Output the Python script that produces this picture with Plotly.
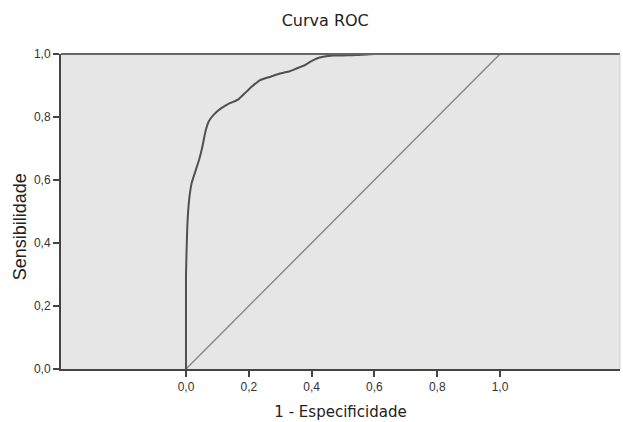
import plotly.graph_objects as go

# ROC curve
fpr = [0.0, 0.0, 0.004, 0.01, 0.018, 0.03, 0.042, 0.052, 0.058, 0.064, 0.072, 0.082,
       0.098, 0.115, 0.135, 0.15, 0.167, 0.188, 0.209, 0.236, 0.27, 0.299, 0.33,
       0.352, 0.375, 0.395, 0.415, 0.437, 0.47, 0.543, 0.6, 1.0]
tpr = [0.0, 0.3, 0.45, 0.537, 0.59, 0.628, 0.665, 0.705, 0.735, 0.762, 0.785, 0.80,
       0.817, 0.83, 0.842, 0.848, 0.856, 0.876, 0.896, 0.917, 0.928, 0.938, 0.945,
       0.954, 0.963, 0.975, 0.985, 0.991, 0.995, 0.997, 1.0, 1.0]
ref_x = [0.0, 1.0]
ref_y = [0.0, 1.0]
tick_vals = [0.0, 0.2, 0.4, 0.6, 0.8, 1.0]
tick_text = ["0,0", "0,2", "0,4", "0,6", "0,8", "1,0"]

fig = go.Figure()
fig.add_trace(go.Scatter(x=ref_x, y=ref_y, mode="lines",
                         line=dict(color="#8a8a8a", width=1.5), hoverinfo="skip"))
fig.add_trace(go.Scatter(x=fpr, y=tpr, mode="lines",
                         line=dict(color="#505050", width=2, shape="spline", smoothing=0.3)))

fig.update_layout(
    width=623, height=422,
    margin=dict(l=61, r=3, t=54, b=53),
    paper_bgcolor="white",
    plot_bgcolor="#e6e6e6",
    showlegend=False,
    title=dict(text="Curva ROC", x=0.522, xanchor="center", y=0.952, yanchor="middle",
               font=dict(family="DejaVu Sans", size=16, color="#222")),
    xaxis=dict(range=[-0.398, 1.382], tickvals=tick_vals, ticktext=tick_text,
               ticks="outside", ticklen=6, tickwidth=1.5, tickcolor="#444",
               showgrid=False, zeroline=False, showline=True, linecolor="#444", linewidth=2,
               tickfont=dict(family="Liberation Sans, Arial", size=12, color="#333"),
               title=dict(text="1 - Especificidade", standoff=13,
                          font=dict(family="DejaVu Sans", size=15, color="#222"))),
    yaxis=dict(range=[0, 1], tickvals=tick_vals, ticktext=tick_text,
               ticks="outside", ticklen=6, tickwidth=1.5, tickcolor="#444",
               showgrid=False, zeroline=False, showline=True, linecolor="#444", linewidth=2,
               tickfont=dict(family="Liberation Sans, Arial", size=12, color="#333")),
    annotations=[
        dict(text="Sensibilidade", xref="paper", yref="paper", x=0, y=0.45,
             xanchor="center", yanchor="middle", xshift=-41, textangle=-90,
             showarrow=False,
             font=dict(family="Liberation Sans, Arial", size=18, color="#222")),
    ],
    shapes=[
        dict(type="line", xref="paper", yref="paper", x0=0, x1=1, y0=1, y1=1,
             line=dict(color="#666", width=2)),
        dict(type="line", xref="paper", yref="paper", x0=1, x1=1, y0=0, y1=1,
             line=dict(color="#cfcfcf", width=1)),
    ],
)

fig.write_html("out.html")
